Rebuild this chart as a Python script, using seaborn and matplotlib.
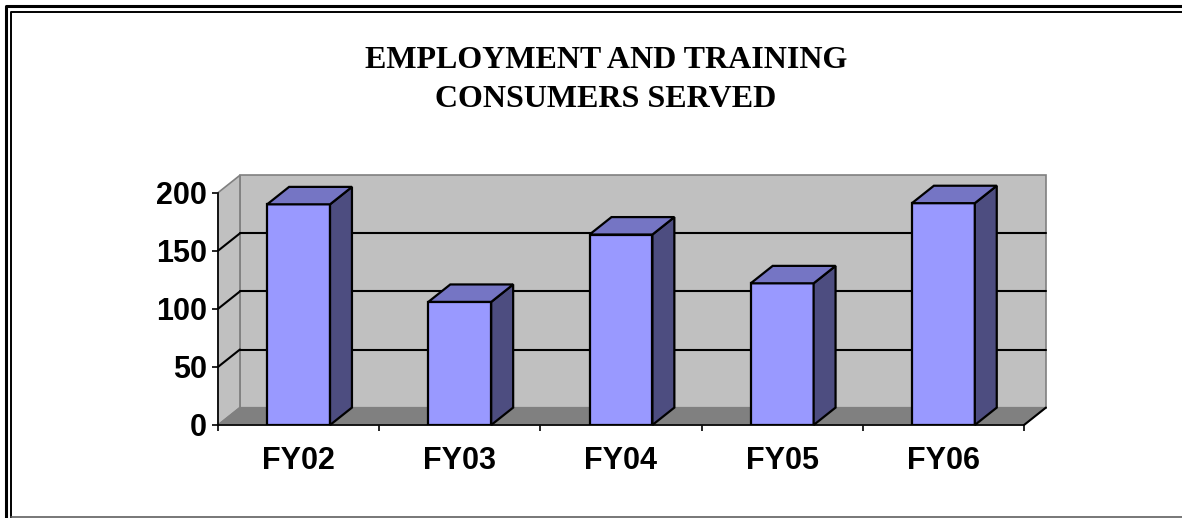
import matplotlib
matplotlib.use("Agg")
import matplotlib.pyplot as plt
from matplotlib.patches import Polygon
from matplotlib.lines import Line2D
import seaborn as sns
import pandas as pd

# Data
years = ["FY02", "FY03", "FY04", "FY05", "FY06"]
consumers = [190, 106, 164, 122, 191]
y_ticks = [0, 50, 100, 150, 200]
title_lines = ["EMPLOYMENT AND TRAINING", "CONSUMERS SERVED"]

# Excel-like 3D colours
FRONT = "#9999FF"
TOP = "#7575C4"
SIDE = "#4D4D80"
WALL = "#C0C0C0"
FLOOR = "#808080"
EDGE_GREY = "#808080"

# depth offset of the fake 3D (category units, value units)
DX = 0.136
DY = 15.0

sns.set_theme(style="white")
plt.rcParams["font.family"] = ["Liberation Sans", "DejaVu Sans"]
plt.rcParams["text.color"] = "black"
plt.rcParams["xtick.color"] = "black"
plt.rcParams["ytick.color"] = "black"

df = pd.DataFrame({"year": years, "consumers": consumers})

W, H = 1182, 518
fig = plt.figure(figsize=(W / 100, H / 100), dpi=100)
fig.patch.set_facecolor("white")
ax = fig.add_axes([218 / W, 93 / H, 806 / W, 232.3 / H])
ax.set_facecolor("none")

sns.barplot(data=df, x="year", y="consumers", color=FRONT, saturation=1,
            width=0.39, edgecolor="black", linewidth=1.6, ax=ax, zorder=3)
bars = list(ax.patches)

ax.set_xlim(-0.5, 4.5)
ax.set_ylim(0, 200)
x0, x1 = -0.5, 4.5

# back wall, side wall, floor
ax.add_patch(Polygon([(x0 + DX, DY), (x1 + DX, DY), (x1 + DX, 200 + DY), (x0 + DX, 200 + DY)],
                     closed=True, facecolor=WALL, edgecolor=EDGE_GREY, lw=1.2,
                     zorder=0.5, clip_on=False))
ax.add_patch(Polygon([(x0, 0), (x0 + DX, DY), (x0 + DX, 200 + DY), (x0, 200)],
                     closed=True, facecolor=WALL, edgecolor=EDGE_GREY, lw=1.2,
                     zorder=0.6, clip_on=False))
ax.add_patch(Polygon([(x0, 0), (x1, 0), (x1 + DX, DY), (x0 + DX, DY)],
                     closed=True, facecolor=FLOOR, edgecolor=EDGE_GREY, lw=1.0,
                     zorder=0.7, clip_on=False))

# gridlines on back and side walls
for v in y_ticks[1:-1]:
    ax.plot([x0 + DX, x1 + DX], [v + DY, v + DY], color="black", lw=1.5,
            zorder=1, clip_on=False)
    ax.plot([x0, x0 + DX], [v, v + DY], color="black", lw=1.5, zorder=1, clip_on=False)
ax.plot([x1, x1 + DX], [0, DY], color="black", lw=1.5, zorder=1, clip_on=False)

# 3D sides and tops of the bars
for b in bars:
    bx0 = b.get_x()
    bx1 = bx0 + b.get_width()
    h = b.get_height()
    ax.add_patch(Polygon([(bx1, 0), (bx1 + DX, DY), (bx1 + DX, h + DY), (bx1, h)],
                         closed=True, facecolor=SIDE, edgecolor="black", lw=1.6,
                         zorder=3, clip_on=False))
    ax.add_patch(Polygon([(bx0, h), (bx1, h), (bx1 + DX, h + DY), (bx0 + DX, h + DY)],
                         closed=True, facecolor=TOP, edgecolor="black", lw=1.6,
                         zorder=3, clip_on=False))

# axes
for s in ["top", "right"]:
    ax.spines[s].set_visible(False)
for s in ["left", "bottom"]:
    ax.spines[s].set_color("black")
    ax.spines[s].set_linewidth(1.2)
    ax.spines[s].set_zorder(2)

ax.set_yticks(y_ticks)
ax.set_yticklabels([str(v) for v in y_ticks], fontsize=22, fontweight="bold")
ax.set_xticks(range(len(years)))
ax.set_xticklabels(years, fontsize=22, fontweight="bold")
ax.set_xticks([i - 0.5 for i in range(len(years) + 1)], minor=True)
ax.tick_params(axis="y", left=True, length=4, width=1.2, color="black",
               labelcolor="black", pad=4)
ax.tick_params(axis="x", which="major", bottom=True, length=0, pad=15,
               labelcolor="black")
ax.tick_params(axis="x", which="minor", bottom=True, length=4, width=1.2, color="black")
ax.set_xlabel("")
ax.set_ylabel("")

# title
for text, base in zip(title_lines, [68, 107]):
    fig.text(606 / W, 1 - base / H, text, ha="center", va="baseline", color="black",
             fontsize=23, fontweight="bold", family=["Liberation Serif", "DejaVu Serif"])

# double frame around the chart
fig.add_artist(Line2D([5.5 / W, 5.5 / W, 1], [0, 1 - 6 / H, 1 - 6 / H],
                      transform=fig.transFigure, color="black", lw=2.2))
fig.add_artist(Line2D([11 / W, 11 / W, 1], [0, 1 - 12 / H, 1 - 12 / H],
                      transform=fig.transFigure, color="black", lw=1.4))
fig.add_artist(Line2D([11 / W, 1], [1.2 / H, 1.2 / H], transform=fig.transFigure,
                      color="#606060", lw=1.2))

fig.savefig("out.png", dpi=100, facecolor="white")
